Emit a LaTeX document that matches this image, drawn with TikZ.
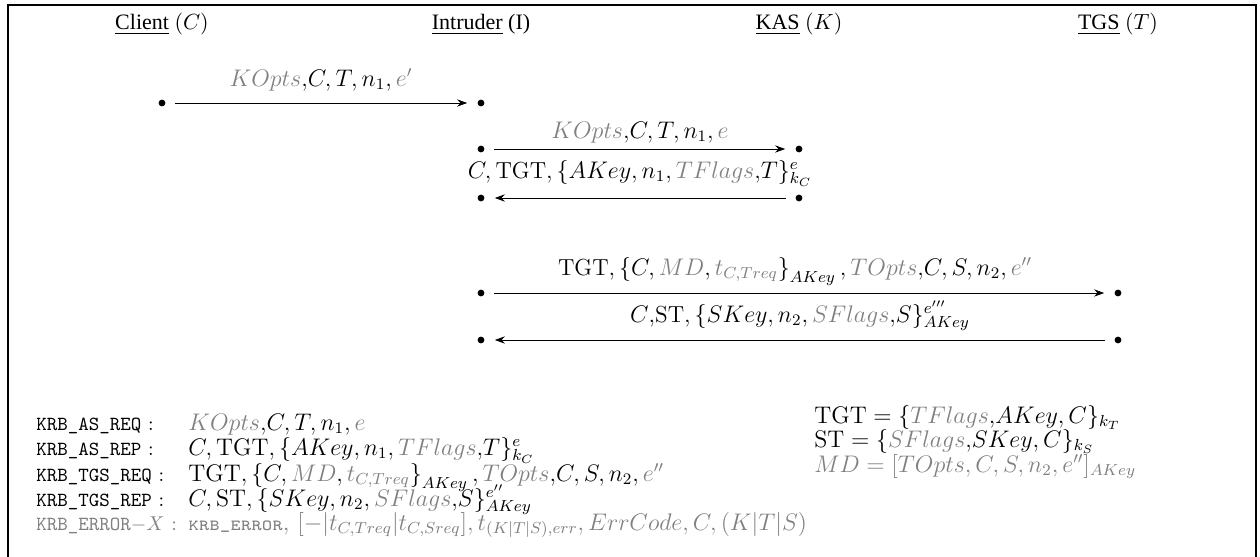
\documentclass[tikz,border=0pt]{standalone}
\usepackage{fontspec}
\newfontfamily\timesf{Liberation Serif}
\usetikzlibrary{arrows.meta}
\definecolor{lg}{gray}{0.5}
\newcommand{\gr}[1]{{\color{lg}#1}}
\begin{document}
\begin{tikzpicture}[x=0.5pt,y=-0.5pt,
  dot/.style={circle,fill=black,inner sep=0pt,minimum size=3.4pt},
  msg/.style={-{Stealth[length=5pt,width=3.6pt]},line width=0.5pt,shorten >=5pt,shorten <=4.8pt},
  lbl/.style={anchor=base,inner sep=0pt,font=\fontsize{11.6}{14}\selectfont},
  hdr/.style={anchor=base,inner sep=0pt,font=\fontsize{11}{13}\timesf},
  key/.style={anchor=base west,inner sep=0pt,font=\fontsize{10}{12}\selectfont},
  row/.style={anchor=base west,inner sep=0pt,font=\fontsize{12}{14}\selectfont},
  frame/.style={line width=0.9pt}]
\useasboundingbox (0,0) rectangle (1260,557);
\draw[frame] (8,557) -- (8,5) -- (1256,5) -- (1256,557);
% headers
\node[hdr] (hC) at (162,30) {\underline{Client} $(C)$};
\node[hdr] (hI) at (481,30) {\underline{Intruder} (I)};
\node[hdr] (hK) at (799,30) {\underline{KAS} $(K)$};
\node[hdr] (hT) at (1118,30) {\underline{TGS} $(T)$};
% dots
\node[dot] (c1) at (162,103) {};
\node[dot] (i1) at (481,103) {};
\node[dot] (i2) at (481,149) {};
\node[dot] (k2) at (799,149) {};
\node[dot] (i3) at (481,198) {};
\node[dot] (k3) at (799,198) {};
\node[dot] (i4) at (481,293) {};
\node[dot] (t4) at (1118,293) {};
\node[dot] (i5) at (481,340) {};
\node[dot] (t5) at (1118,340) {};
% messages
\draw[msg] (c1) -- (i1);
\draw[msg] (i2) -- (k2);
\draw[msg] (k3) -- (i3);
\draw[msg] (i4) -- (t4);
\draw[msg] (t5) -- (i5);
% message labels
\node[lbl] (l1) at (321,86) {$\gr{KOpts}{,}C, T, n_1, \gr{e'}$};
\node[lbl] (l2) at (640,138) {$\gr{KOpts}{,}C, T, n_1, \gr{e}$};
\node[lbl] (l3) at (640,178) {$C, \mathrm{TGT}, \{AKey, n_1, \gr{TFlags}{,}T\}^{e}_{k_C}$};
\node[lbl] (l4) at (795,275) {$\mathrm{TGT}, \left\{C, \gr{MD}, \gr{t_{C,Treq}}\right\}_{AKey}, \gr{TOpts}{,}C, S, n_2, \gr{e''}$};
\node[lbl] (l5) at (800,322) {$C{,}\mathrm{ST}, \{SKey, n_2, \gr{SFlags}{,}S\}^{e'''}_{AKey}$};
% legend left
\node[key] (k1) at (36,430) {\texttt{KRB\_AS\_REQ} $:$};
\node[key] (k2l) at (36,455) {\texttt{KRB\_AS\_REP} $:$};
\node[key] (k3l) at (36,481) {\texttt{KRB\_TGS\_REQ} $:$};
\node[key] (k4l) at (36,506) {\texttt{KRB\_TGS\_REP} $:$};
\node[key] (k5l) at (36,530) {\color{lg}\texttt{KRB\_ERROR}$-X$ $:$};
\node[row] (f1) at (188,430) {$\gr{KOpts}{,}C, T, n_1, \gr{e}$};
\node[row] (f2) at (188,455) {$C, \mathrm{TGT}, \{AKey, n_1, \gr{TFlags}{,}T\}^{e}_{k_C}$};
\node[row] (f3) at (188,481) {$\mathrm{TGT}, \left\{C, \gr{MD}, \gr{t_{C,Treq}}\right\}_{AKey}, \gr{TOpts}{,}C, S, n_2, \gr{e''}$};
\node[row] (f4) at (188,506) {$C, \mathrm{ST}, \{SKey, n_2, \gr{SFlags}{,}S\}^{e''}_{AKey}$};
\node[row] (f5) at (188,530) {\color{lg}{\fontsize{10}{12}\selectfont\texttt{\scshape krb\_error}}, $[-|t_{C,Treq}|t_{C,Sreq}], t_{(K|T|S),err}, ErrCode, C, (K|T|S)$};
% legend right
\node[row] (d1) at (814,423) {$\mathrm{TGT} = \{\gr{TFlags}{,}AKey, C\}_{k_T}$};
\node[row] (d2) at (814,447) {$\mathrm{ST} = \{\gr{SFlags}{,}SKey, C\}_{k_S}$};
\node[row] (d3) at (814,472) {\color{lg}$MD = [TOpts, C, S, n_2, e'']_{AKey}$};
\end{tikzpicture}
\end{document}
